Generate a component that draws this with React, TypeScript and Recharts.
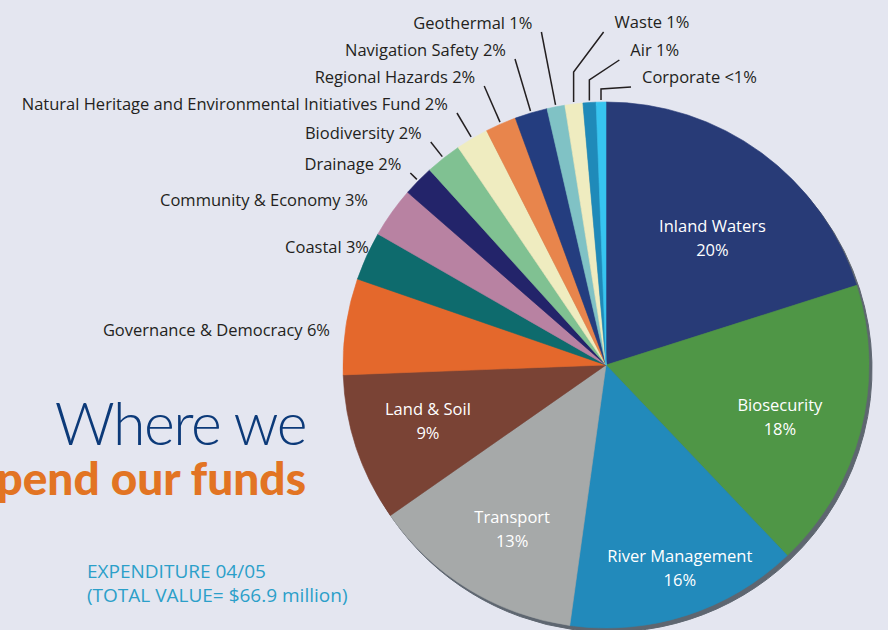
import { Cell, Pie, PieChart } from "recharts";

// Expenditure 04/05 by activity, clockwise from 12 o'clock
const categories = [
  "Inland Waters",
  "Biosecurity",
  "River Management",
  "Transport",
  "Land & Soil",
  "Governance & Democracy",
  "Coastal",
  "Community & Economy",
  "Drainage",
  "Biodiversity",
  "Natural Heritage and Environmental Initiatives Fund",
  "Regional Hazards",
  "Navigation Safety",
  "Geothermal",
  "Waste",
  "Air",
  "Corporate",
];

// slice sizes as drawn (share of the pie, %)
const shares = [
  20.1, 17.8, 14.3, 13.1, 9.1, 5.9, 3.0, 3.1, 1.9, 2.2, 2.0, 1.9, 2.0, 1.1, 1.1,
  0.8, 0.6,
];

// percentages as printed on the chart
const percentLabels = [
  "20%", "18%", "16%", "13%", "9%", "6%", "3%", "3%", "2%", "2%", "2%", "2%",
  "2%", "1%", "1%", "1%", "<1%",
];

const colors = [
  "#283b77", "#4f9646", "#228abb", "#a6a9a9", "#7a4335", "#e4682c", "#0e6b6d",
  "#b882a2", "#23246a", "#80c192", "#efecc0", "#e8854c", "#243d7f", "#80c2c5",
  "#efecc0", "#1f8ab9", "#37c4f0",
];

const BG = "#e4e6f0";
const TEXT = "#231f20";
const CX = 606;
const CY = 365;
const R = 263;
const RAD = Math.PI / 180;
const FONT_SIZE = 16.5;

// placement of the labels printed inside the big slices
const insideLayout = [
  { r: 0.63, dAngle: -3.8 },
  { r: 0.69, dAngle: -2.2 },
  { r: 0.82, dAngle: 2.2 },
  { r: 0.72, dAngle: 1.8 },
  { r: 0.71, dAngle: -1 },
];

// where the outside labels sit
const outsideLayout: Record<
  number,
  { kind: "plain" | "left" | "right"; y: number; x?: number; elbow?: number }
> = {
  5: { kind: "plain", x: 330, y: 330 },
  6: { kind: "plain", x: 369, y: 247 },
  7: { kind: "plain", x: 368, y: 200 },
  8: { kind: "left", y: 164 },
  9: { kind: "left", y: 133 },
  10: { kind: "left", y: 104 },
  11: { kind: "left", y: 77 },
  12: { kind: "left", y: 50 },
  13: { kind: "left", y: 23 },
  14: { kind: "right", y: 22, elbow: 72 },
  15: { kind: "right", y: 50, elbow: 80 },
  16: { kind: "right", y: 77, elbow: 89 },
};

const data = categories.map((name, i) => ({
  name,
  value: shares[i],
  pct: percentLabels[i],
}));

const labelFont = "'Open Sans', 'Noto Sans', sans-serif";

function renderLabel(props: any) {
  const { cx, cy, midAngle, outerRadius, index } = props;
  const cos = Math.cos(-midAngle * RAD);
  const sin = Math.sin(-midAngle * RAD);
  const name = categories[index];
  const pct = percentLabels[index];

  if (index < 5) {
    const { r: f, dAngle } = insideLayout[index];
    const a = -(midAngle + dAngle) * RAD;
    const r = outerRadius * f;
    const x = cx + r * Math.cos(a);
    const y = cy + r * Math.sin(a);
    return (
      <text
        x={x}
        y={y}
        fill="#ffffff"
        fontSize={FONT_SIZE}
        fontFamily={labelFont}
        textAnchor="middle"
      >
        <tspan x={x} dy={-6}>
          {name}
        </tspan>
        <tspan x={x} dy={24}>
          {pct}
        </tspan>
      </text>
    );
  }

  const layout = outsideLayout[index];
  if (!layout) return null;
  const label = `${name} ${pct}`;

  if (layout.kind === "plain") {
    return (
      <text
        x={layout.x}
        y={layout.y + 6}
        fill={TEXT}
        fontSize={FONT_SIZE}
        fontFamily={labelFont}
        textAnchor="end"
      >
        {label}
      </text>
    );
  }

  const ex = cx + (outerRadius + 2) * cos;
  const ey = cy + (outerRadius + 2) * sin;

  if (layout.kind === "left") {
    const endY = layout.y + 9;
    const s = (ey - endY) / -sin;
    const px = ex + s * cos;
    return (
      <g>
        <line x1={ex} y1={ey} x2={px} y2={endY} stroke={TEXT} strokeWidth={1.5} />
        <text
          x={px - 9}
          y={layout.y + 6}
          fill={TEXT}
          fontSize={FONT_SIZE}
          fontFamily={labelFont}
          textAnchor="end"
        >
          {label}
        </text>
      </g>
    );
  }

  const elbow = layout.elbow ?? ey - 20;
  const tipX = ex + 30;
  const tipY = layout.y + 10;
  return (
    <g>
      <polyline
        points={`${ex},${ey} ${ex},${elbow} ${tipX},${tipY}`}
        fill="none"
        stroke={TEXT}
        strokeWidth={1.5}
      />
      <text
        x={tipX + 11}
        y={layout.y + 6}
        fill={TEXT}
        fontSize={FONT_SIZE}
        fontFamily={labelFont}
        textAnchor="start"
      >
        {label}
      </text>
    </g>
  );
}

export default function App() {
  return (
    <div
      style={{
        position: "absolute",
        left: 0,
        top: 0,
        width: 888,
        height: 630,
        overflow: "hidden",
        background: BG,
      }}
    >
      <svg
        width={888}
        height={630}
        style={{ position: "absolute", left: 0, top: 0 }}
      >
        <text
          x={306}
          y={445}
          fill="#0c3a79"
          fontSize={59}
          fontFamily="Lato, 'Open Sans', sans-serif"
          fontWeight={300}
          letterSpacing={-1.5}
          textAnchor="end"
        >
          Where we
        </text>
        <text
          x={306}
          y={495}
          fill="#e27423"
          fontSize={46}
          fontFamily="Lato, 'Open Sans', sans-serif"
          fontWeight={900}
          textAnchor="end"
        >
          spend our funds
        </text>
        <text
          x={87}
          y={578}
          fill="#2b9fc9"
          fontSize={19}
          fontFamily={labelFont}
        >
          EXPENDITURE 04/05
        </text>
        <text
          x={87}
          y={602}
          fill="#2b9fc9"
          fontSize={19}
          fontFamily={labelFont}
        >
          (TOTAL VALUE= $66.9 million)
        </text>
      </svg>
      <div style={{ position: "absolute", left: 0, top: 0 }}>
        <PieChart
          width={888}
          height={630}
          margin={{ top: 0, right: 0, bottom: 0, left: 0 }}
        >
          <Pie
            data={data}
            dataKey="value"
            nameKey="name"
            cx={CX + 3}
            cy={CY + 4}
            outerRadius={R}
            startAngle={90}
            endAngle={-270}
            fill="#5e6670"
            stroke="#5e6670"
            isAnimationActive={false}
            label={false}
            labelLine={false}
          />
          <Pie
            data={data}
            dataKey="value"
            nameKey="name"
            cx={CX}
            cy={CY}
            outerRadius={R}
            startAngle={90}
            endAngle={-270}
            isAnimationActive={false}
            label={renderLabel}
            labelLine={false}
          >
            {data.map((d, i) => (
              <Cell
                key={d.name}
                fill={colors[i]}
                stroke={colors[i]}
                strokeWidth={0.6}
              />
            ))}
          </Pie>
        </PieChart>
      </div>
    </div>
  );
}
